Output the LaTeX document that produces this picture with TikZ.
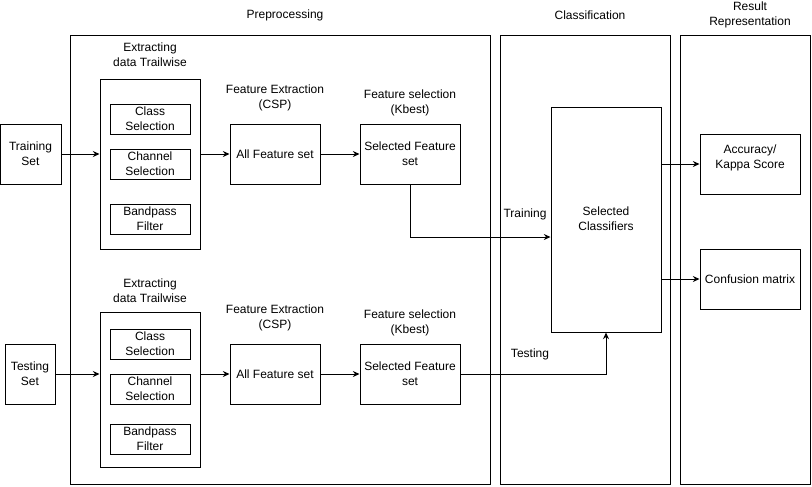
\documentclass[tikz,border=0pt]{standalone}
\usepackage{fontspec}
\setmainfont{Liberation Sans}
\usetikzlibrary{arrows.meta, positioning}
\tikzset{
  panel/.style={draw, line width=0.75pt},
  block/.style={draw, line width=0.75pt, align=center, inner sep=1pt},
  caption/.style={align=center, inner sep=1pt},
  arr/.style={-{Stealth[length=5pt, width=4.5pt]}, line width=0.75pt}
}

\begin{document}
\begin{tikzpicture}[x=0.75pt, y=-0.75pt, font=\fontsize{9}{11.25}\selectfont]

  \useasboundingbox (0, 0) rectangle (812, 486);

  % the three panels
  \node[panel, minimum width=315pt, minimum height=336.75pt] (pre) at (280, 259.5) {};
  \node[panel, minimum width=127.5pt, minimum height=336.75pt] (cls) at (585, 259.5) {};
  \node[panel, minimum width=97.5pt, minimum height=336.75pt] (res) at (745, 259.5) {};
  \node[caption] (preT) at (285, 15) {Preprocessing};
  \node[caption] (clsT) at (590, 15) {Classification};
  \node[caption] (resT) at (750, 15) {Result\\Representation};

  % training branch
  \node[block, minimum width=45.75pt, minimum height=45pt] (trainSet) at (30.5, 154) {Training\\Set};
  \node[block, minimum width=75pt, minimum height=127.5pt] (extA) at (150, 164) {};
  \node[caption, above=7.5pt of extA] (extAT) {Extracting\\data Trailwise};
  \node[block, minimum width=60pt, minimum height=22.5pt] (classA) at (150, 119) {Class\\Selection};
  \node[block, minimum width=60pt, minimum height=22.5pt] (chanA) at (150, 164) {Channel\\Selection};
  \node[block, minimum width=60pt, minimum height=22.5pt] (bandA) at (150, 219) {Bandpass\\Filter};
  \node[block, minimum width=67.5pt, minimum height=45pt] (allA) at (275, 154) {All Feature set};
  \node[caption, above=8pt of allA] (allAT) {Feature Extraction\\(CSP)};
  \node[block, minimum width=75pt, minimum height=45pt] (selA) at (410, 154) {Selected Feature\\set};
  \node[caption, above=4.5pt of selA] (selAT) {Feature selection\\(Kbest)};

  % testing branch
  \node[block, minimum width=37.5pt, minimum height=45pt] (testSet) at (30, 374) {Testing\\Set};
  \node[block, minimum width=75pt, minimum height=116.25pt] (extB) at (150, 389.5) {};
  \node[caption, above=5.5pt of extB] (extBT) {Extracting\\data Trailwise};
  \node[block, minimum width=60pt, minimum height=22.5pt] (classB) at (150, 344) {Class\\Selection};
  \node[block, minimum width=60pt, minimum height=22.5pt] (chanB) at (150, 389) {Channel\\Selection};
  \node[block, minimum width=60pt, minimum height=22.5pt] (bandB) at (150, 439) {Bandpass\\Filter};
  \node[block, minimum width=67.5pt, minimum height=45pt] (allB) at (275, 374) {All Feature set};
  \node[caption, above=8pt of allB] (allBT) {Feature Extraction\\(CSP)};
  \node[block, minimum width=75pt, minimum height=45pt] (selB) at (410, 374) {Selected Feature\\set};
  \node[caption, above=4.5pt of selB] (selBT) {Feature selection\\(Kbest)};

  % classification and results
  \node[block, minimum width=82.5pt, minimum height=168.75pt] (clf) at (606, 219.5) {};
  \node[caption] (clfT) at (606, 219) {Selected\\Classifiers};
  \node[block, minimum width=75pt, minimum height=45pt] (acc) at (750, 164) {};
  \node[caption] (accT) at (750, 158) {Accuracy/\\Kappa Score};
  \node[block, minimum width=75pt, minimum height=45pt] (conf) at (750, 279) {Confusion matrix};
  \node[caption] (trainL) at (525, 214) {Training};
  \node[caption] (testL) at (530, 354) {Testing};
  \coordinate (clfIn) at (clf.west |- 0, 237);

  % connectors
  \draw[arr] (trainSet) -- (trainSet -| extA.west);
  \draw[arr] (extA.east |- allA) -- (allA);
  \draw[arr] (allA) -- (selA);
  \draw[arr] (selA.south) |- (clfIn);

  \draw[arr] (testSet) -- (testSet -| extB.west);
  \draw[arr] (extB.east |- allB) -- (allB);
  \draw[arr] (allB) -- (selB);
  \draw[arr] (selB.east) -| (clf.south);

  \draw[arr] (clf.east |- acc) -- (acc);
  \draw[arr] (clf.east |- conf) -- (conf);

\end{tikzpicture}
\end{document}
